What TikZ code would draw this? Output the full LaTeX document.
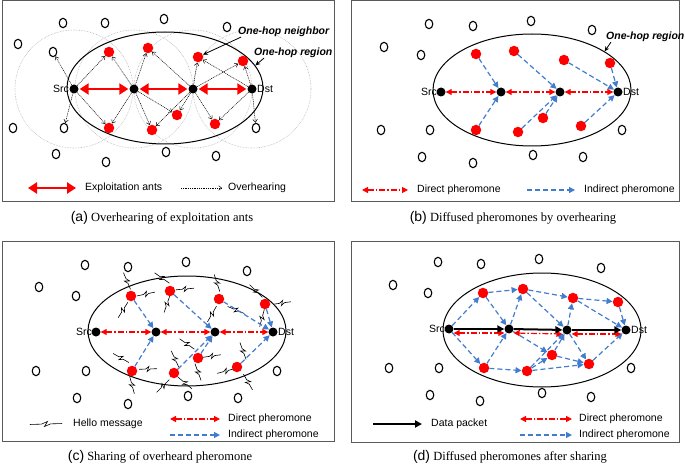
\documentclass[tikz,border=0pt]{standalone}
\usepackage{fontspec}
\setmainfont{Liberation Serif}
\setsansfont{Liberation Sans}
\usetikzlibrary{arrows.meta,shapes.geometric}
\definecolor{idblue}{RGB}{66,124,206}
\definecolor{framegray}{RGB}{90,90,90}
\begin{document}
\begin{tikzpicture}[x=1pt,y=-1pt,
  blk/.style={circle,fill=black,inner sep=0pt,minimum size=9pt},
  rdn/.style={circle,fill=red,inner sep=0pt,minimum size=10.5pt},
  onode/.style={ellipse,draw,line width=1.1pt,inner sep=0pt,minimum width=7.5pt,minimum height=9.5pt},
  region/.style={ellipse,draw,line width=1pt,inner sep=0pt},
  panelframe/.style={draw=framegray,line width=1pt},
  xexploit/.style={red,line width=2.6pt,{Triangle[length=9pt,width=11pt]}-{Triangle[length=9pt,width=11pt]},shorten <=1pt,shorten >=1pt},
  xover/.style={line width=0.5pt,dash pattern=on 1pt off 0.8pt,-{Straight Barb[length=3pt,width=4.5pt]}},
  xdirect/.style={red,line width=1.2pt,dash pattern=on 6pt off 2pt on 1.5pt off 2pt,{Triangle[length=6pt,width=6pt]}-{Triangle[length=6pt,width=6pt]}},
  xindirect/.style={idblue,line width=1.2pt,dash pattern=on 5pt off 3pt,-{Triangle[length=6pt,width=6pt]}},
  xdata/.style={black,line width=2pt,-{Triangle[length=7pt,width=7pt]}},
  lbl/.style={font=\sffamily\fontsize{10.5}{12}\selectfont,inner sep=0pt},
  italbl/.style={font=\sffamily\bfseries\itshape\fontsize{10.5}{12}\selectfont,inner sep=0pt},
  captxt/.style={font=\fontsize{12.5}{14}\selectfont,inner sep=0pt},
  halo/.style={draw=gray!60,densely dotted,line width=0.6pt},
  pointer/.style={line width=0.8pt,-{Stealth[length=5pt,width=4.5pt]}},
  hellosym/.pic={\draw[line width=0.6pt] (-9,0) -- (-2.5,0) -- (1,-2.5) -- (-1,2.5) -- (2.5,0) -- (9,0);}
]
\useasboundingbox (0,0) rectangle (685,465);

% ---------------- frames ----------------
\draw[panelframe] (2,1) rectangle (334,202);
\draw[panelframe] (351,1) rectangle (679,202);
\draw[panelframe] (2,241) rectangle (334,441);
\draw[panelframe] (351,241) rectangle (679,442);

% ================= PANEL (a) =================
\foreach \c in {(74,89),(134,89),(193,89),(252,89)} \draw[halo] \c circle (59);
\node[region,minimum width=196pt,minimum height=112pt] (a-ell) at (165,88) {};
\foreach \p [count=\i] in {(63,23),(105,23),(164,19),(227,27),(18,44),(53,52),(13,128),(64,128),(56,154),(106,162),(166,152),(216,156),(256,128)}
  \node[onode] (a-o\i) at \p {};
\foreach \p [count=\i] in {(109,52),(148,48),(198,57),(243,61),(109,128),(152,130),(177,115),(215,124)}
  \node[rdn] (a-r\i) at \p {};
\node[blk] (a-s) at (74,89) {};
\node[blk] (a-b1) at (134,89) {};
\node[blk] (a-b2) at (193,89) {};
\node[blk] (a-d) at (252,89) {};
\node[lbl,anchor=east] (a-srct) at (69,89) {Src};
\node[lbl,anchor=west] (a-dstt) at (257,89) {Dst};
\foreach \f/\t in {a-s/a-o6,a-s/a-o8,a-s/a-r1,a-s/a-r5,a-b1/a-r1,a-b1/a-r5,a-b1/a-r2,a-b1/a-r6,a-b1/a-r7,a-b2/a-r2,a-b2/a-r7,a-b2/a-r6,a-b2/a-r3,a-b2/a-r4,a-b2/a-r8,a-d/a-r3,a-d/a-r4,a-d/a-o13,a-d/a-r8}
  \draw[xover] (\f) -- (\t);
\draw[xexploit] (a-s) -- (a-b1);
\draw[xexploit] (a-b1) -- (a-b2);
\draw[xexploit] (a-b2) -- (a-d);
\node[italbl,anchor=west] (a-nb) at (238,32) {One-hop neighbor};
\draw[pointer] ([xshift=3pt]a-nb.south west) -- (a-r3);
\node[italbl,anchor=west] (a-rg) at (254,53) {One-hop region};
\draw[pointer] ([xshift=10pt]a-rg.south west) -- (a-ell.14);
% legend
\coordinate (a-l1a) at (27,188); \coordinate (a-l1b) at (77,188);
\draw[xexploit] (a-l1a) -- (a-l1b);
\node[lbl,anchor=west] (a-l1t) at (85,188) {Exploitation ants};
\coordinate (a-l2a) at (181,188); \coordinate (a-l2b) at (222,188);
\draw[xover] (a-l2a) -- (a-l2b);
\node[lbl,anchor=west] (a-l2t) at (228,188) {Overhearing};
\node[captxt] (a-cap) at (162,218) {{\sffamily\fontsize{14}{16}\selectfont(a)} Overhearing of exploitation ants};

% ================= PANEL (b) =================
\node[region,minimum width=198pt,minimum height=112pt] (b-ell) at (532,90) {};
\foreach \p [count=\i] in {(429,24),(473,26),(531,21),(592,30),(384,47),(421,55),(381,130),(430,130),(422,157),(473,163),(533,155),(583,157),(622,130)}
  \node[onode] (b-o\i) at \p {};
\foreach \p [count=\i] in {(476,54),(514,51),(564,60),(610,63),(476,130),(518,132),(543,118),(581,126)}
  \node[rdn] (b-r\i) at \p {};
\node[blk] (b-s) at (441,92) {};
\node[blk] (b-b1) at (501,92) {};
\node[blk] (b-b2) at (560,92) {};
\node[blk] (b-d) at (618,92) {};
\node[lbl,anchor=east] (b-srct) at (437,92) {Src};
\node[lbl,anchor=west] (b-dstt) at (623,92) {Dst};
\foreach \f/\t in {b-r1/b-b1,b-r5/b-b1,b-r2/b-b2,b-r6/b-b2,b-r7/b-b2,b-r3/b-d,b-r4/b-d,b-r8/b-d}
  \draw[xindirect] (\f) -- (\t);
\draw[xdirect] (b-s) -- (b-b1);
\draw[xdirect] (b-b1) -- (b-b2);
\draw[xdirect] (b-b2) -- (b-d);
\node[italbl,anchor=west] (b-rg) at (606,37) {One-hop region};
\draw[pointer] ([xshift=5pt]b-rg.south west) -- (b-ell.28);
% legend
\coordinate (b-l1a) at (362,190); \coordinate (b-l1b) at (408,190);
\draw[xdirect] (b-l1a) -- (b-l1b);
\node[lbl,anchor=west] (b-l1t) at (417,190) {Direct pheromone};
\coordinate (b-l2a) at (527,190); \coordinate (b-l2b) at (575,190);
\draw[xindirect] (b-l2a) -- (b-l2b);
\node[lbl,anchor=west] (b-l2t) at (584,190) {Indirect pheromone};
\node[captxt] (b-cap) at (513,218) {{\sffamily\fontsize{14}{16}\selectfont(b)} Diffused pheromones by overhearing};

% ================= PANEL (c) =================
\node[region,minimum width=198pt,minimum height=110pt] (c-ell) at (187,331) {};
\foreach \p [count=\i] in {(85,265),(128,267),(186,262),(247,271),(39,287),(76,296),(36,371),(86,371),(77,398),(128,404),(188,396),(238,398),(277,371)}
  \node[onode] (c-o\i) at \p {};
% hello messages
\foreach \p/\a in {(127,281)/113,(146,294)/12,(123,310)/58,
                   (162,278)/-35,(185,289)/5,(167,304)/71,
                   (217,283)/108,(236,310)/-23,(212,314)/60,
                   (256,291)/-45,(282,303)/8,(262,318)/75,
                   (121,358)/-30,(148,369)/2,(132,385)/-75,
                   (175,359)/-65,(163,386)/45,(185,383)/-40,
                   (187,344)/-35,(212,356)/8,(198,372)/-70,
                   (243,351)/-70,(226,371)/15,(248,382)/-60}
  \pic[rotate=\a] at \p {hellosym};
\foreach \p [count=\i] in {(131,296),(170,291),(219,299),(265,304),(132,371),(174,373),(198,358),(237,367)}
  \node[rdn] (c-r\i) at \p {};
\node[blk] (c-s) at (96,332) {};
\node[blk] (c-b1) at (156,332) {};
\node[blk] (c-b2) at (215,332) {};
\node[blk] (c-d) at (273,332) {};
\node[lbl,anchor=east] (c-srct) at (92,332) {Src};
\node[lbl,anchor=west] (c-dstt) at (278,332) {Dst};
\foreach \f/\t in {c-r1/c-b1,c-r5/c-b1,c-r2/c-b2,c-r6/c-b2,c-r7/c-b2,c-r3/c-d,c-r4/c-d,c-r8/c-d}
  \draw[xindirect] (\f) -- (\t);
\draw[xdirect] (c-s) -- (c-b1);
\draw[xdirect] (c-b1) -- (c-b2);
\draw[xdirect] (c-b2) -- (c-d);
% legend
\pic[xscale=1.8,rotate=3] at (46,424) {hellosym};
\node[lbl,anchor=west] (c-l0t) at (73,424) {Hello message};
\coordinate (c-l1a) at (170,419); \coordinate (c-l1b) at (220,419);
\draw[xdirect] (c-l1a) -- (c-l1b);
\node[lbl,anchor=west] (c-l1t) at (228,419) {Direct pheromone};
\coordinate (c-l2a) at (170,435); \coordinate (c-l2b) at (220,435);
\draw[xindirect] (c-l2a) -- (c-l2b);
\node[lbl,anchor=west] (c-l2t) at (228,435) {Indirect pheromone};
\node[captxt] (c-cap) at (160,457) {{\sffamily\fontsize{14}{16}\selectfont(c)} Sharing of overheard pheromone};

% ================= PANEL (d) =================
\node[region,minimum width=198pt,minimum height=114pt] (d-ell) at (542,330) {};
\foreach \p [count=\i] in {(438,262),(481,264),(539,259),(601,268),(393,285),(428,293),(389,368),(439,368),(430,395),(480,401),(542,393),(591,397),(631,368)}
  \node[onode] (d-o\i) at \p {};
\foreach \p [count=\i] in {(483,293),(523,289),(573,298),(618,302),(484,368),(527,371),(552,355),(589,364)}
  \node[rdn] (d-r\i) at \p {};
\node[blk] (d-s) at (449,329) {};
\node[blk] (d-b1) at (509,329) {};
\node[blk] (d-b2) at (567,330) {};
\node[blk] (d-d) at (626,330) {};
\node[lbl,anchor=east] (d-srct) at (445,329) {Src};
\node[lbl,anchor=west] (d-dstt) at (631,330) {Dst};
\foreach \f/\t in {d-s/d-r1,d-s/d-r5,d-r1/d-r2,d-r1/d-b1,d-b1/d-r2,d-r2/d-r3,d-r2/d-b2,d-r3/d-r4,d-r3/d-d,d-r4/d-d,d-b2/d-r3,d-r5/d-b1,d-r5/d-r6,d-b1/d-r7,d-r6/d-r7,d-r6/d-b2,d-r7/d-b2,d-r7/d-r8,d-r6/d-r8,d-b2/d-r8,d-r8/d-d}
  \draw[xindirect] (\f) -- (\t);
\draw[xdirect] ([yshift=-4pt]d-s.east) -- ([yshift=-4pt]d-b1.west);
\draw[xdirect] ([yshift=-4pt]d-b1.east) -- ([yshift=-4pt]d-b2.west);
\draw[xdirect] ([yshift=-4pt]d-b2.east) -- ([yshift=-4pt]d-d.west);
\draw[xdata] (d-s) -- (d-b1);
\draw[xdata] (d-b1) -- (d-b2);
\draw[xdata] (d-b2) -- (d-d);
% legend
\coordinate (d-l0a) at (373,424); \coordinate (d-l0b) at (422,424);
\draw[xdata] (d-l0a) -- (d-l0b);
\node[lbl,anchor=west] (d-l0t) at (431,424) {Data packet};
\coordinate (d-l1a) at (520,419); \coordinate (d-l1b) at (572,419);
\draw[xdirect] (d-l1a) -- (d-l1b);
\node[lbl,anchor=west] (d-l1t) at (579,419) {Direct pheromone};
\coordinate (d-l2a) at (520,435); \coordinate (d-l2b) at (572,435);
\draw[xindirect] (d-l2a) -- (d-l2b);
\node[lbl,anchor=west] (d-l2t) at (579,435) {Indirect pheromone};
\node[captxt] (d-cap) at (510,457) {{\sffamily\fontsize{14}{16}\selectfont(d)} Diffused pheromones after sharing};
\end{tikzpicture}
\end{document}
